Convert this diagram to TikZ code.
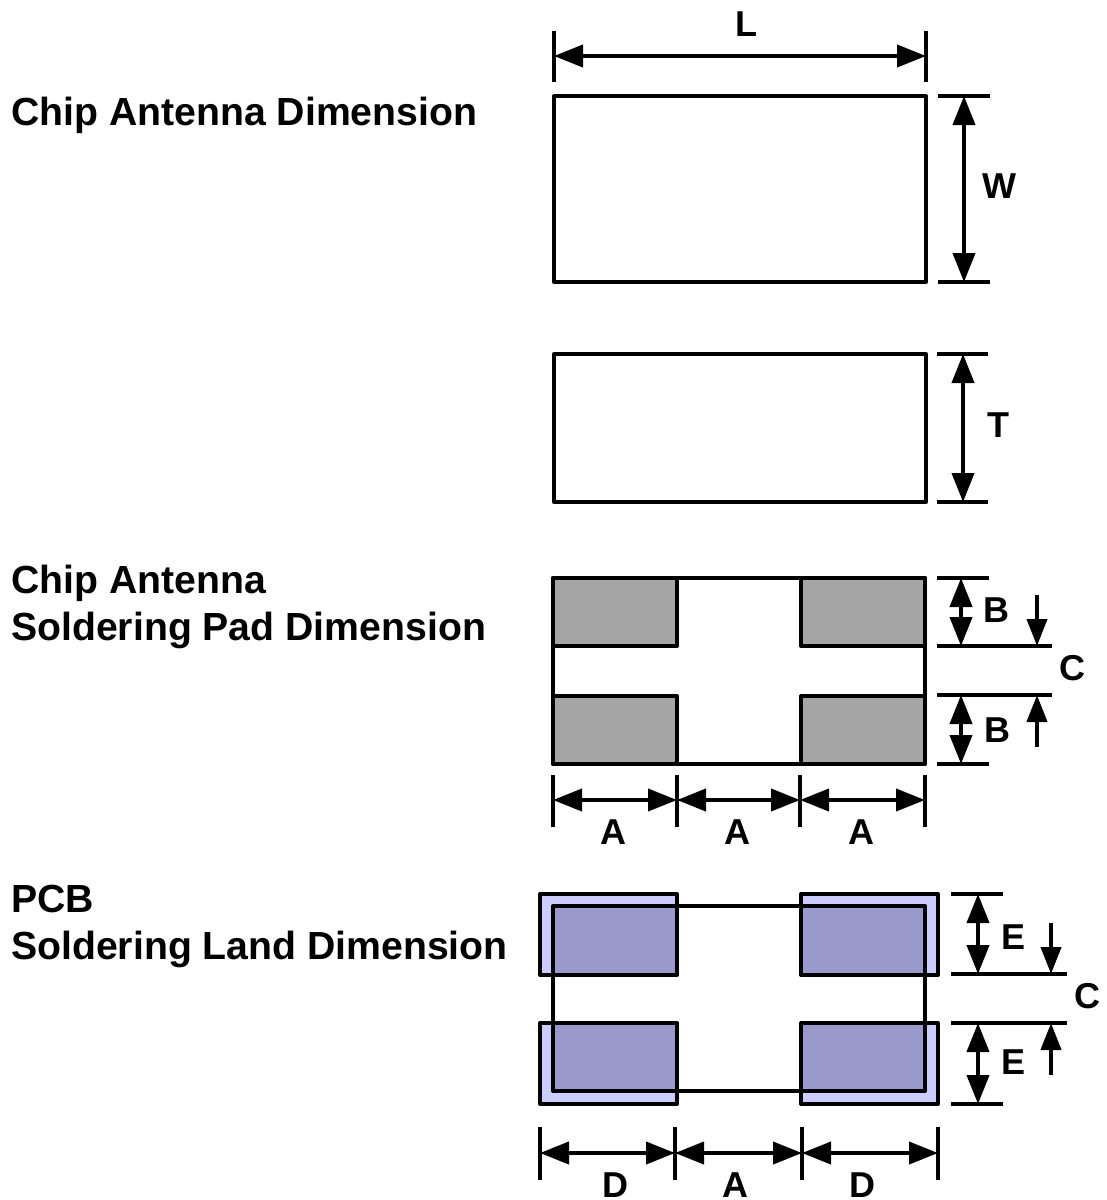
\documentclass[tikz,border=0pt]{standalone}
\usepackage{fontspec}
\setmainfont{Liberation Sans}
\usetikzlibrary{arrows.meta}
\definecolor{padgray}{RGB}{166,166,166}
\definecolor{landlight}{RGB}{204,204,255}
\definecolor{landdark}{RGB}{153,153,204}
\tikzset{x=1pt, y=-1pt,
  every node/.style={align=left, inner sep=0pt, font=\fontsize{36}{47}\selectfont\bfseries},
  title/.style={anchor=base west, font=\fontsize{39.2}{47}\selectfont\bfseries},
  box/.style={draw, line width=4pt, outer sep=0pt, minimum width=372pt, line join=round},
  padbox/.style={draw, line width=4pt, outer sep=0pt, fill=padgray, minimum width=124pt, minimum height=68pt, line join=round},
  landbox/.style={fill=landlight, outer sep=0pt, minimum width=137pt, minimum height=81pt},
  outline/.style={line width=4pt, line join=round},
  tick/.style={line width=3.5pt},
  dim/.style={line width=4pt, {Triangle[length=29pt,width=22pt]}-{Triangle[length=29pt,width=22pt]}},
  small/.style={line width=4pt, -{Triangle[length=27pt,width=20pt]}}}
\begin{document}
\begin{tikzpicture}
  \useasboundingbox (0,0) rectangle (1107,1200);

  % titles on the left
  \node [title] (title1) at (11,125) {Chip Antenna Dimension};
  \node [title] (title2) at (11,640) {Chip Antenna\\Soldering Pad Dimension};
  \node [title] (title3) at (11,959) {PCB\\Soldering Land Dimension};

  % chip, top view
  \node [box, minimum height=186pt, anchor=north west] (chipa) at (554,96) {};
  \coordinate (la) at (554,31);  \coordinate (lb) at (554,82);
  \coordinate (lc) at (926,31);  \coordinate (ld) at (926,82);
  \coordinate (le) at (554,56);  \coordinate (lf) at (926,56);
  \draw [tick] (la) -- (lb);
  \draw [tick] (lc) -- (ld);
  \draw [dim] (le) -- (lf);
  \node (lenL) at (746,24) {L};

  \coordinate (wa) at (938,96);   \coordinate (wb) at (990,96);
  \coordinate (wc) at (938,282);  \coordinate (wd) at (990,282);
  \coordinate (we) at (964,96);   \coordinate (wf) at (964,282);
  \draw [tick] (wa) -- (wb);
  \draw [tick] (wc) -- (wd);
  \draw [dim] (we) -- (wf);
  \node (lenW) at (999,186) {W};

  % chip, side view
  \node [box, minimum height=148pt, anchor=north west] (chipb) at (554,354) {};
  \coordinate (ta) at (937,354);  \coordinate (tb) at (988,354);
  \coordinate (tc) at (937,502);  \coordinate (td) at (988,502);
  \coordinate (te) at (963,354);  \coordinate (tf) at (963,502);
  \draw [tick] (ta) -- (tb);
  \draw [tick] (tc) -- (td);
  \draw [dim] (te) -- (tf);
  \node (lenT) at (998,425) {T};

  % soldering pads
  \node [box, minimum height=186pt, anchor=north west] (chipc) at (553,578) {};
  \node [padbox, anchor=north west] (pada) at (chipc.north west) {};
  \node [padbox, anchor=north east] (padb) at (chipc.north east) {};
  \node [padbox, anchor=south west] (padc) at (chipc.south west) {};
  \node [padbox, anchor=south east] (padd) at (chipc.south east) {};

  \coordinate (ba) at (937,578);  \coordinate (bb) at (989,578);
  \coordinate (bc) at (937,646);  \coordinate (bd) at (1052,646);
  \coordinate (be) at (937,695);  \coordinate (bf) at (1052,695);
  \coordinate (bg) at (937,764);  \coordinate (bh) at (989,764);
  \draw [tick] (ba) -- (bb);
  \draw [tick] (bc) -- (bd);
  \draw [tick] (be) -- (bf);
  \draw [tick] (bg) -- (bh);
  \coordinate (bi) at (961,578);  \coordinate (bj) at (961,646);
  \coordinate (bk) at (961,695);  \coordinate (bl) at (961,764);
  \draw [dim] (bi) -- (bj);
  \draw [dim] (bk) -- (bl);
  \coordinate (bm) at (1037,595);  \coordinate (bn) at (1037,646);
  \coordinate (bo) at (1037,747);  \coordinate (bp) at (1037,695);
  \draw [small] (bm) -- (bn);
  \draw [small] (bo) -- (bp);
  \node (lenB1) at (996,610) {B};
  \node (lenB2) at (997,730) {B};
  \node (lenC1) at (1072,668) {C};

  \coordinate (aa) at (553,775);  \coordinate (ab) at (553,827);
  \coordinate (ac) at (677,775);  \coordinate (ad) at (677,827);
  \coordinate (ae) at (800,775);  \coordinate (af) at (800,827);
  \coordinate (ag) at (925,775);  \coordinate (ah) at (925,827);
  \draw [tick] (aa) -- (ab);
  \draw [tick] (ac) -- (ad);
  \draw [tick] (ae) -- (af);
  \draw [tick] (ag) -- (ah);
  \coordinate (ai) at (553,800);  \coordinate (aj) at (677,800);
  \coordinate (ak) at (800,800);  \coordinate (al) at (925,800);
  \draw [dim] (ai) -- (aj);
  \draw [dim] (aj) -- (ak);
  \draw [dim] (ak) -- (al);
  \node (lenA1) at (613,832) {A};
  \node (lenA2) at (737,832) {A};
  \node (lenA3) at (861,832) {A};

  % soldering lands with chip on top
  \node [landbox, anchor=north west] (landa) at (540,894) {};
  \node [landbox, anchor=north west] (landb) at (801,894) {};
  \node [landbox, anchor=north west] (landc) at (540,1023) {};
  \node [landbox, anchor=north west] (landd) at (801,1023) {};
  \coordinate (chipda) at (553,906);
  \coordinate (chipdb) at (925,1091);
  \fill [landdark] (chipda) rectangle (landa.south east);
  \fill [landdark] (landb.south west) rectangle (chipda -| chipdb);
  \fill [landdark] (landc.north east) rectangle (chipdb -| chipda);
  \fill [landdark] (landd.north west) rectangle (chipdb);
  \draw [outline] (landa.north west) rectangle (landa.south east);
  \draw [outline] (landb.north west) rectangle (landb.south east);
  \draw [outline] (landc.north west) rectangle (landc.south east);
  \draw [outline] (landd.north west) rectangle (landd.south east);
  \draw [outline] (chipda) rectangle (chipdb);

  \coordinate (ea) at (951,894);   \coordinate (eb) at (1003,894);
  \coordinate (ec) at (951,974);   \coordinate (ed) at (1067,974);
  \coordinate (ee) at (951,1023);  \coordinate (ef) at (1067,1023);
  \coordinate (eg) at (951,1104);  \coordinate (eh) at (1003,1104);
  \draw [tick] (ea) -- (eb);
  \draw [tick] (ec) -- (ed);
  \draw [tick] (ee) -- (ef);
  \draw [tick] (eg) -- (eh);
  \coordinate (ei) at (978,894);   \coordinate (ej) at (978,974);
  \coordinate (ek) at (978,1023);  \coordinate (el) at (978,1104);
  \draw [dim] (ei) -- (ej);
  \draw [dim] (ek) -- (el);
  \coordinate (em) at (1051,923);  \coordinate (en) at (1051,974);
  \coordinate (eo) at (1051,1075); \coordinate (ep) at (1051,1023);
  \draw [small] (em) -- (en);
  \draw [small] (eo) -- (ep);
  \node (lenE1) at (1013,937) {E};
  \node (lenE2) at (1013,1062) {E};
  \node (lenC2) at (1087,996) {C};

  \coordinate (da) at (540,1127);  \coordinate (db) at (540,1180);
  \coordinate (dc) at (675,1127);  \coordinate (dd) at (675,1180);
  \coordinate (de) at (802,1127);  \coordinate (df) at (802,1180);
  \coordinate (dg) at (938,1127);  \coordinate (dh) at (938,1180);
  \draw [tick] (da) -- (db);
  \draw [tick] (dc) -- (dd);
  \draw [tick] (de) -- (df);
  \draw [tick] (dg) -- (dh);
  \coordinate (di) at (540,1153);  \coordinate (dj) at (675,1153);
  \coordinate (dk) at (802,1153);  \coordinate (dl) at (938,1153);
  \draw [dim] (di) -- (dj);
  \draw [dim] (dj) -- (dk);
  \draw [dim] (dk) -- (dl);
  \node [anchor=base] (lenD1) at (615,1197) {D};
  \node [anchor=base] (lenA4) at (735,1197) {A};
  \node [anchor=base] (lenD2) at (862,1197) {D};
\end{tikzpicture}
\end{document}
